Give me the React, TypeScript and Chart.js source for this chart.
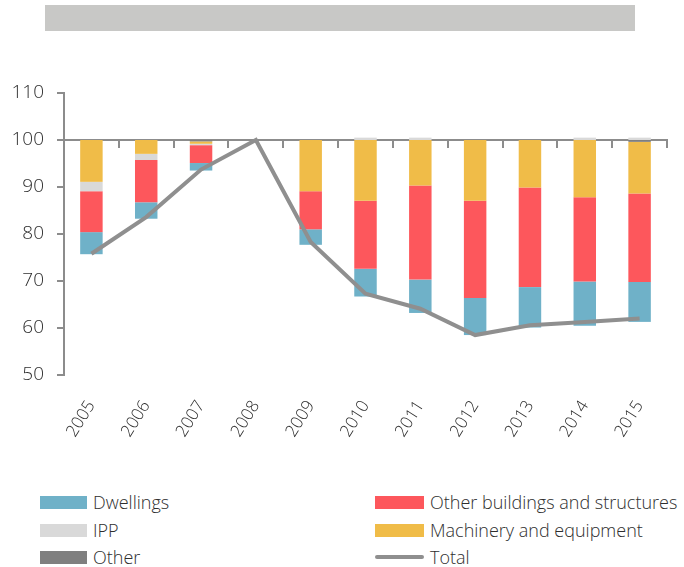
import React, { useEffect, useRef } from "react";
import { Chart, registerables } from "chart.js";

Chart.register(...registerables);

const BASE = 100;
const years = ["2005", "2006", "2007", "2008", "2009", "2010", "2011", "2012", "2013", "2014", "2015"];
const dwellings = [-4.7, -3.5, -1.6, 0, -3.3, -5.9, -7.1, -7.9, -8.6, -9.4, -8.5];
const otherBuildings = [-8.7, -9.0, -3.8, 0, -8.1, -14.5, -20.0, -20.7, -21.2, -17.9, -18.8];
const ipp = [-2.0, -1.3, -0.3, 0, 0, 0.5, 0.5, 0, 0, 0.5, 0.5];
const machinery = [-8.9, -2.95, -0.5, 0, -10.9, -12.9, -9.7, -12.9, -10.1, -12.2, -11.0];
const other = [0, 0, -0.3, 0, 0, 0, 0, 0, 0, 0, -0.4];
const total = [75.8, 83.6, 93.7, 100, 78.3, 67.3, 64.1, 58.5, 60.6, 61.3, 62.0];
const yTicks = [50, 60, 70, 80, 90, 100, 110];

const COLORS = {
  dwellings: "#6fb1c8",
  otherBuildings: "#fd575c",
  ipp: "#d9d9d9",
  machinery: "#f0bc48",
  other: "#7f7f7f",
  total: "#8f8f8f",
};

const FONT = "'Open Sans', sans-serif";
const TEXT = "#2e2e2e";
const AXIS = "#8c8c8c";

// stacking order from the base downward
const stackOrder: { key: keyof typeof COLORS; label: string; values: number[] }[] = [
  { key: "other", label: "Other", values: other },
  { key: "machinery", label: "Machinery and equipment", values: machinery },
  { key: "ipp", label: "IPP", values: ipp },
  { key: "otherBuildings", label: "Other buildings and structures", values: otherBuildings },
  { key: "dwellings", label: "Dwellings", values: dwellings },
];

function buildRanges() {
  const neg = years.map(() => BASE);
  const pos = years.map(() => BASE);
  return stackOrder.map((s) => {
    const data = s.values.map((v, i) => {
      if (!v) return null;
      if (v < 0) {
        const r: [number, number] = [neg[i] + v, neg[i]];
        neg[i] += v;
        return r;
      }
      const r: [number, number] = [pos[i], pos[i] + v];
      pos[i] += v;
      return r;
    });
    return { ...s, data };
  });
}

export default function App() {
  const ref = useRef<HTMLCanvasElement>(null);

  useEffect(() => {
    if (!ref.current) return;
    const ranges = buildRanges();
    const chart = new Chart(ref.current, {
      type: "bar",
      data: {
        labels: years,
        datasets: [
          {
            type: "line",
            label: "Total",
            data: total,
            borderColor: COLORS.total,
            backgroundColor: COLORS.total,
            borderWidth: 4,
            pointRadius: 0,
            tension: 0,
            xAxisID: "x",
            yAxisID: "y",
            order: 0,
          } as any,
          ...ranges.map((r) => ({
            type: "bar",
            label: r.label,
            data: r.data,
            backgroundColor: COLORS[r.key],
            borderWidth: 0,
            grouped: false,
            barPercentage: 0.41,
            categoryPercentage: 1,
            xAxisID: "x",
            yAxisID: "y",
            order: 1,
          })),
        ],
      },
      options: {
        animation: false,
        responsive: false,
        maintainAspectRatio: false,
        layout: { padding: { top: 93, right: 17, left: 0, bottom: 0 } },
        plugins: { legend: { display: false }, tooltip: { enabled: false }, title: { display: false } },
        scales: {
          x: {
            type: "category",
            position: "bottom",
            offset: true,
            grid: { display: false, drawTicks: false },
            border: { display: false },
            ticks: {
              autoSkip: false,
              maxRotation: 58,
              minRotation: 58,
              padding: 22,
              color: TEXT,
              font: { family: FONT, size: 17, weight: 300 as any },
            },
            afterFit: (s: any) => {
              s.height = 85;
            },
          },
          x2: {
            type: "category",
            labels: years,
            position: { y: BASE } as any,
            offset: true,
            grid: {
              display: true,
              drawOnChartArea: false,
              drawTicks: true,
              tickLength: 7,
              offset: true,
              color: AXIS,
              lineWidth: 2,
            },
            border: { display: true, color: AXIS, width: 2 },
            ticks: { display: false },
          },
          y: {
            min: 50,
            max: 110,
            afterBuildTicks: (s: any) => {
              s.ticks = yTicks.map((v) => ({ value: v }));
            },
            grid: {
              display: true,
              drawOnChartArea: false,
              drawTicks: true,
              tickLength: 7,
              color: AXIS,
              lineWidth: 2,
            },
            border: { display: true, color: AXIS, width: 2 },
            ticks: {
              padding: 13,
              color: TEXT,
              font: { family: FONT, size: 19, weight: 300 as any },
            },
            afterFit: (s: any) => {
              s.width = 64;
            },
          },
        },
      } as any,
    });
    return () => chart.destroy();
  }, []);

  const legendLeft = [
    { label: "Dwellings", color: COLORS.dwellings },
    { label: "IPP", color: COLORS.ipp },
    { label: "Other", color: COLORS.other },
  ];
  const legendRight = [
    { label: "Other buildings and structures", color: COLORS.otherBuildings, line: false },
    { label: "Machinery and equipment", color: COLORS.machinery, line: false },
    { label: "Total", color: COLORS.total, line: true },
  ];
  const rowY = [502, 530, 557];

  return (
    <div style={{ position: "absolute", left: 0, top: 0, width: 684, height: 567, background: "#fff", overflow: "hidden", fontFamily: FONT }}>
      <div style={{ position: "absolute", left: 45, top: 5, width: 590, height: 26, background: "#c8c8c6" }} />
      <canvas ref={ref} width={684} height={460} style={{ position: "absolute", left: 0, top: 0, width: 684, height: 460 }} />
      {legendLeft.map((it, i) => (
        <div key={it.label} style={{ position: "absolute", left: 40, top: rowY[i] - 12, height: 24, display: "flex", alignItems: "center" }}>
          <div style={{ width: 47, height: 13, background: it.color }} />
          <span style={{ marginLeft: 6, fontSize: 18, fontWeight: 300, color: TEXT, whiteSpace: "nowrap" }}>{it.label}</span>
        </div>
      ))}
      {legendRight.map((it, i) => (
        <div key={it.label} style={{ position: "absolute", left: 375, top: rowY[i] - 12, height: 24, display: "flex", alignItems: "center" }}>
          {it.line ? (
            <div style={{ width: 49, height: 4, borderRadius: 2, background: it.color }} />
          ) : (
            <div style={{ width: 49, height: 13, background: it.color }} />
          )}
          <span style={{ marginLeft: 6, fontSize: 18, fontWeight: 300, color: TEXT, whiteSpace: "nowrap" }}>{it.label}</span>
        </div>
      ))}
    </div>
  );
}
